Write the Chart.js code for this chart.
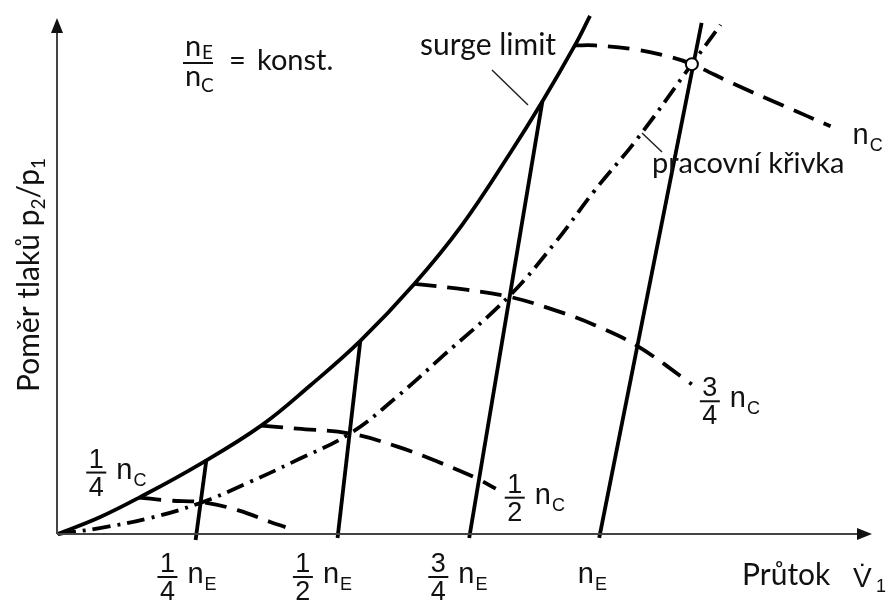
<!DOCTYPE html>
<html>
<head>
<meta charset="utf-8">
<script src="https://cdn.jsdelivr.net/npm/chart.js@4"></script>
<style>
  body { margin: 0; background: #fff; }
  #wrap { width: 894px; height: 605px; }
</style>
</head>
<body>
<div id="wrap"><canvas id="map"></canvas></div>
<script>
// flow in units of nE flow, pressure ratio in arbitrary units
var surgeLimit = [[0,0],[0.077,0.17],[0.150,0.37],[0.259,0.70],[0.375,1.10],[0.466,1.51],[0.558,1.96],[0.658,2.54],[0.745,3.13],[0.835,3.87],[0.894,4.39],[0.954,4.96],[0.982,5.26]];
var workingLine = [[0,0],[0.077,0.06],[0.168,0.16],[0.260,0.31],[0.351,0.52],[0.437,0.74],[0.539,1.02],[0.625,1.39],[0.711,1.81],[0.832,2.41],[0.918,2.96],[0.991,3.49],[1.069,4.01],[1.170,4.77],[1.223,5.17]];

// compressor speed lines (dashed)
var speedQuarter = [[0.150,0.37],[0.205,0.34],[0.269,0.32],[0.333,0.24],[0.393,0.12],[0.420,0.07]];
var speedHalf = [[0.375,1.10],[0.442,1.07],[0.539,1.02],[0.625,0.89],[0.698,0.74],[0.771,0.57],[0.808,0.46]];
var speedThreeQuarter = [[0.658,2.54],[0.753,2.48],[0.832,2.41],[0.918,2.27],[0.991,2.12],[1.069,1.91],[1.170,1.52]];
var speedFull = [[0.954,4.96],[0.991,4.96],[1.064,4.92],[1.132,4.84],[1.170,4.77],[1.247,4.57],[1.338,4.35],[1.426,4.14]];

// engine speed lines (solid)
var engineQuarter = [[0.254,-0.06],[0.274,0.76]];
var engineHalf = [[0.516,-0.04],[0.558,1.96]];
var engineThreeQuarter = [[0.759,-0.04],[0.894,4.39]];
var engineFull = [[0.999,-0.04],[1.188,5.19]];

var designPoint = [[1.170,4.77]];

var flowTicks = [0.25, 0.5, 0.75, 1];
var flowTickLabels = [['1','4'], ['1','2'], ['3','4'], null];

var ARIAL = '"Liberation Sans", Arial, sans-serif';
var SANS = 'Lato, "Open Sans", sans-serif';

function pts(arr) {
    return arr.map(function (p) { return { x: p[0], y: p[1] }; });
}

function curve(data, dash, smooth) {
    return {
        data: pts(data),
        showLine: true,
        borderColor: '#000',
        borderWidth: 3.8,
        borderDash: dash || [],
        borderCapStyle: 'butt',
        pointRadius: 0,
        tension: smooth ? 0.4 : 0,
        clip: false
    };
}

// n with subscript, optionally with a fraction in front of it
function speedLabel(ctx, nx, base, frac, sub) {
    ctx.fillStyle = '#111';
    ctx.textBaseline = 'alphabetic';
    if (frac) {
        var fx = nx - 20, by = base - 6;
        ctx.font = '27px ' + ARIAL;
        ctx.textAlign = 'center';
        ctx.fillText(frac[0], fx, by - 5);
        ctx.fillText(frac[1], fx, by + 23);
        ctx.fillRect(fx - 10, by - 1, 20, 2);
    }
    ctx.textAlign = 'left';
    ctx.font = '29px ' + ARIAL;
    ctx.fillText('n', nx, base);
    var w = ctx.measureText('n').width;
    ctx.font = '18px ' + ARIAL;
    ctx.fillText(sub, nx + w + 1, base + 7);
}

var annotations = {
    id: 'annotations',
    afterDatasetsDraw: function (chart) {
        var ctx = chart.ctx;
        var xs = chart.scales.x, ys = chart.scales.y;
        var ox = xs.getPixelForValue(0) - 1, oy = ys.getPixelForValue(0);
        ctx.save();

        // axes with arrow heads
        ctx.strokeStyle = '#444';
        ctx.fillStyle = '#111';
        ctx.lineWidth = 2;
        ctx.beginPath();
        ctx.moveTo(ox, oy); ctx.lineTo(858, oy);
        ctx.moveTo(ox, oy); ctx.lineTo(ox, 32);
        ctx.stroke();
        ctx.beginPath();
        ctx.moveTo(857, oy - 6); ctx.lineTo(872, oy); ctx.lineTo(857, oy + 6); ctx.closePath();
        ctx.fill();
        ctx.beginPath();
        ctx.moveTo(ox - 6, 33); ctx.lineTo(ox, 18); ctx.lineTo(ox + 6, 33); ctx.closePath();
        ctx.fill();

        // flow tick labels under the engine speed lines
        flowTicks.forEach(function (v, i) {
            var px = xs.getPixelForValue(v);
            if (flowTickLabels[i]) speedLabel(ctx, px - 6, 583, flowTickLabels[i], 'E');
            else speedLabel(ctx, px - 22, 583, null, 'E');
        });

        // compressor speed labels next to their curves
        var q0 = speedQuarter[0];
        speedLabel(ctx, xs.getPixelForValue(q0[0]) - 23, ys.getPixelForValue(q0[1]) - 19, ['1','4'], 'C');
        var h = speedHalf[speedHalf.length - 1];
        speedLabel(ctx, xs.getPixelForValue(h[0]) + 39, ys.getPixelForValue(h[1]) + 15, ['1','2'], 'C');
        var t = speedThreeQuarter[speedThreeQuarter.length - 1];
        speedLabel(ctx, xs.getPixelForValue(t[0]) + 38, ys.getPixelForValue(t[1]) + 23, ['3','4'], 'C');
        var f = speedFull[speedFull.length - 1];
        speedLabel(ctx, xs.getPixelForValue(f[0]) + 22, ys.getPixelForValue(f[1]) + 18, null, 'C');

        // nE / nC = konst.
        ctx.fillStyle = '#111';
        ctx.textAlign = 'left';
        ctx.font = '29px ' + SANS;
        ctx.fillText('n', 185, 56);
        ctx.fillText('n', 185, 86);
        ctx.font = '19px ' + SANS;
        ctx.fillText('E', 202, 59);
        ctx.fillText('C', 201, 92);
        ctx.fillRect(183, 62, 30, 2);
        ctx.font = '29px ' + SANS;
        ctx.fillText('=', 229, 70);
        ctx.fillText('konst.', 257, 70);

        // curve captions with their leaders
        ctx.font = '30px ' + SANS;
        ctx.fillText('surge limit', 420, 55);
        ctx.font = '29px ' + SANS;
        ctx.fillText('pracovní křivka', 652, 173);
        ctx.strokeStyle = '#222';
        ctx.lineWidth = 1.5;
        ctx.beginPath();
        ctx.moveTo(492, 70); ctx.lineTo(528, 105);
        ctx.moveTo(642, 133); ctx.lineTo(662, 152);
        ctx.stroke();

        // axis titles
        ctx.font = '30px ' + SANS;
        ctx.fillText('Průtok', 742, 585);
        ctx.font = '28px ' + ARIAL;
        ctx.fillText('V\u0307', 853, 587);
        ctx.font = '18px ' + ARIAL;
        ctx.fillText('1', 876, 592);

        ctx.translate(39, 275);
        ctx.rotate(-Math.PI / 2);
        var parts = [['Poměr tlaků p', 30, 0], ['2', 19, 6], ['/p', 30, 0], ['1', 19, 6]];
        var total = 0;
        parts.forEach(function (p) { ctx.font = p[1] + 'px ' + SANS; total += ctx.measureText(p[0]).width; });
        var cx = -total / 2;
        parts.forEach(function (p) {
            ctx.font = p[1] + 'px ' + SANS;
            ctx.fillText(p[0], cx, p[2]);
            cx += ctx.measureText(p[0]).width;
        });
        ctx.restore();
    }
};

var ctx = document.getElementById('map');
var myChart = new Chart(ctx, {
    type: 'scatter',
    data: {
        datasets: [
            {
                data: pts(designPoint),
                pointRadius: 6,
                pointBackgroundColor: '#fff',
                pointBorderColor: '#000',
                pointBorderWidth: 2,
                clip: false
            },
            curve(surgeLimit, [], true),
            curve(workingLine, [18, 7, 3, 7], true),
            curve(speedQuarter, [22, 11], true),
            curve(speedHalf, [22, 11], true),
            curve(speedThreeQuarter, [22, 11], true),
            curve(speedFull, [22, 11], true),
            curve(engineQuarter),
            curve(engineHalf),
            curve(engineThreeQuarter),
            curve(engineFull)
        ]
    },
    options: {
        responsive: true,
        maintainAspectRatio: false,
        animation: false,
        layout: { padding: { left: 58, right: 0, top: 0, bottom: 71 } },
        plugins: { legend: { display: false }, tooltip: { enabled: false } },
        scales: {
            x: { type: 'linear', min: 0, max: 836 / 547, display: false },
            y: { type: 'linear', min: 0, max: 5.34, display: false }
        }
    },
    plugins: [annotations]
});
</script>
</body>
</html>
